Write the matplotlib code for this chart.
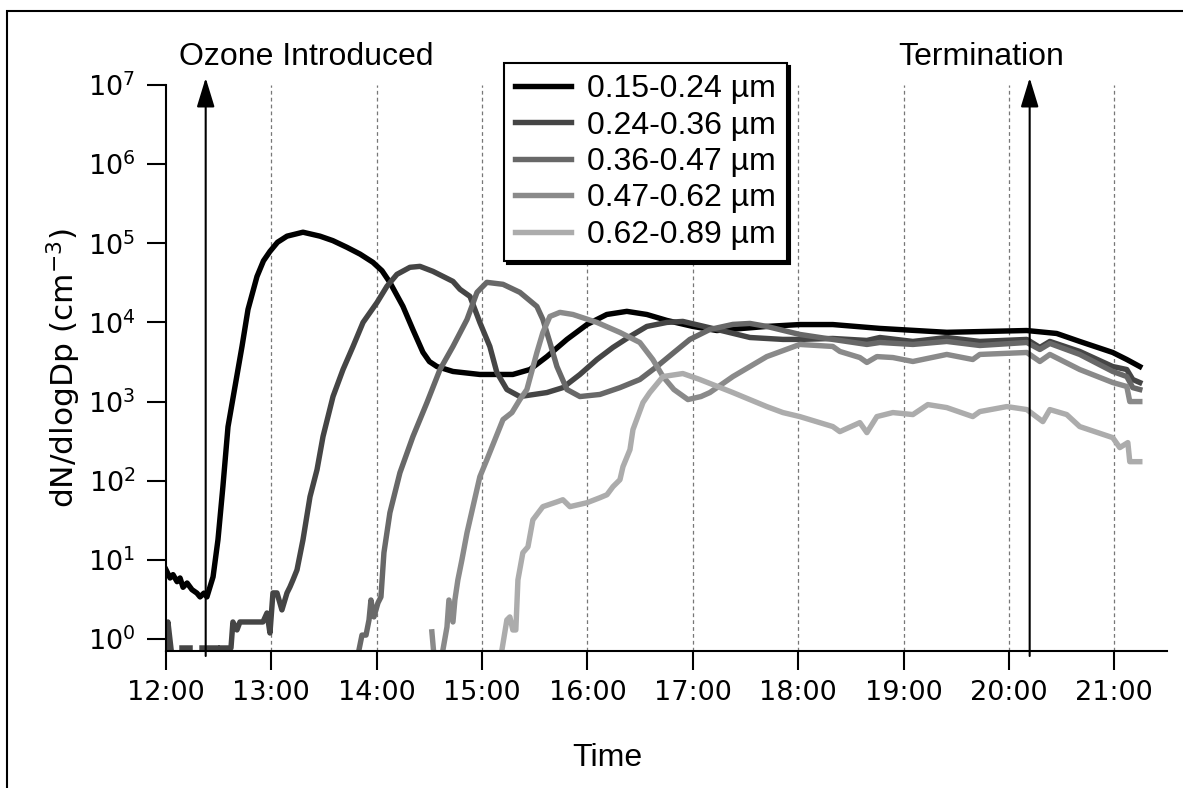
import numpy as np
import pandas as pd
import matplotlib
matplotlib.use("Agg")
import matplotlib.pyplot as plt
import matplotlib.dates as mdates
from matplotlib.ticker import NullLocator
from matplotlib.patches import Rectangle

plt.rcParams['font.family'] = 'DejaVu Sans'

nan = np.nan

# minutes after 12:00, dN/dlogDp (cm-3)
t1 = [0, 2.3, 4.0, 6.3, 8.0, 9.7, 12.0, 14.8, 17.6, 19.4, 21.6, 23.3, 26.8, 29.6, 32.4,
      35.3, 39.3, 43.3, 46.7, 51.8, 55.5, 59.2, 63.5, 68.9, 78.0, 87.7, 95.0, 103.0, 110.5,
      117.8, 123.0, 127.5, 131.5, 134.9, 140.6, 146.3, 150.0, 154.3, 163.4, 178.7, 197.5,
      207.2, 216.9, 228.3, 239.7, 251.0, 262.4, 273.8, 285.2, 300.0, 313.7, 342.1, 360.9,
      379.7, 406.5, 444.6, 490.1, 507.2, 520.3, 539.1, 547.1, 554.5]
n1 = [7.5, 5.9, 6.5, 5.3, 5.9, 4.5, 5.1, 4.2, 3.8, 3.4, 3.8, 3.4, 6.1, 18, 84,
      480, 1550, 5000, 14600, 38000, 60000, 79000, 103000, 123000, 138000, 123000, 108000,
      89000, 73000, 57500, 45000, 32000, 22000, 16000, 8100, 4200, 3200, 2770, 2400, 2200,
      2200, 2540, 3700, 6100, 9400, 12600, 13800, 12600, 10600, 8900, 7900, 8900, 9400,
      9400, 8400, 7500, 7900, 7250, 5750, 4170, 3400, 2770]

t2 = [0, 1.1, 2.8, 4.5, 9.1, 13.7, 16, 20.5, 29.0, 30.5, 31.3, 37.0, 38.1, 40.4, 42.1,
      55.2, 57.5, 59.2, 60.9, 63.2, 66.0, 68.9, 70.6, 72.3, 74.6, 78.0, 82.0, 86.0, 89.4,
      95.1, 100.8, 106.5, 112.2, 120.2, 125.8, 131.5, 138.9, 144.6, 152.0, 163.4, 167.4,
      173.1, 178.7, 184.4, 188.4, 194.1, 201.5, 216.9, 226.0, 235.7, 245.4, 254.5, 264.2,
      273.8, 285.2, 294.3, 313.7, 332.5, 351.3, 360.9, 379.7, 399.1, 406.5, 425.3, 444.6,
      463.4, 490.2, 497.6, 503.3, 520.3, 539.1, 547.1, 550.5, 554.5]
n2 = [0.77, 1.64, 0.77, nan, 0.77, 0.77, nan, 0.77, 0.77, nan, 0.77, 0.77, 1.64, 1.30, 1.64,
      1.64, 2.13, 1.19, 3.82, 3.82, 2.33, 3.82, 4.55, 5.58, 7.47, 17.9, 62.7, 138, 361,
      1157, 2540, 4970, 10000, 17900, 28600, 40500, 49700, 51100, 44200, 33000, 26200,
      21300, 10000, 4970, 2330, 1420, 1157, 1300, 1500, 2200, 3400, 4830, 6650,
      8900, 10000, 10300, 8150, 6450, 6100, 6100, 6270, 5920, 6450, 5750, 6450,
      5750, 6100, 4830, 5750, 4300, 2770, 2540, 1900, 1740]

t3 = [109.9, 111.6, 113.9, 115.6, 116.7, 118.4, 120.7, 122.4, 124.1, 127.5, 133.2, 140.6,
      148.6, 156.0, 163.4, 171.4, 177.1, 182.7, 191.9, 201.5, 211.2, 214.6, 218.6, 222.6,
      228.3, 235.7, 247.1, 258.5, 269.8, 279.5, 289.2, 298.3, 309.7, 322.8, 332.5, 342.1,
      360.9, 379.7, 399.1, 406.5, 425.3, 444.6, 463.4, 490.2, 497.6, 503.3, 520.3, 539.1,
      547.1, 550.5, 554.5]
n3 = [0.73, 1.12, 1.12, 1.74, 3.11, 1.90, 2.86, 3.40, 12.3, 39.4, 126, 361,
      971, 2540, 4970, 10900, 24000, 32100, 30300, 24000, 15900, 10900, 5580, 2770,
      1420, 1157, 1230, 1500, 1900, 2770, 4170, 6100, 8150, 9440, 9710, 8900,
      7050, 6100, 5270, 5580, 5270, 5750, 5110, 5580, 4550, 5420, 3940, 2400,
      2070, 1500, 1420]

t4 = [151.4, 152.3, 153.0, 157.7, 160.0, 161.1, 163.4, 164.5, 166.2, 168.5, 171.4, 174.8,
      178.7, 182.7, 187.3, 191.9, 197.0, 201.5, 205.5, 211.2, 214.6, 218.6, 224.3, 231.7,
      245.4, 258.5, 269.8, 277.2, 283.0, 289.2, 297.2, 304.6, 309.7, 322.8, 342.1, 360.9,
      379.7, 383.7, 395.1, 399.1, 404.8, 413.9, 425.3, 444.6, 459.4, 463.4, 490.2, 497.6,
      503.3, 520.3, 539.1, 547.1, 548.8, 554.5]
n4 = [1.23, 0.73, nan, 0.73, 1.42, 3.11, 1.64, 3.11, 5.58, 10, 22, 47,
      112, 184, 330, 592, 726, 1060, 1420, 4170, 7470, 11900, 13400, 12600,
      10000, 7470, 5580, 3400, 2070, 1420, 1060, 1157, 1300, 2070, 3700, 5270,
      4970, 4300, 3600, 3120, 3700, 3600, 3210, 3940, 3400, 3940, 4170, 3210,
      3940, 2540, 1740, 1550, 1000, 1000]

t5 = [191.3, 194.1, 195.8, 197.5, 199.2, 200.4, 203.2, 206.1, 208.9, 214.6, 222.6, 226.0,
      230.0, 239.7, 247.1, 251.1, 254.5, 258.5, 260.2, 264.2, 265.9, 271.6, 275.5, 283.0,
      294.3, 304.0, 322.8, 342.1, 351.3, 360.9, 379.7, 383.7, 395.1, 399.1, 404.8, 413.9,
      425.3, 433.8, 444.6, 459.4, 463.4, 478.8, 490.2, 499.3, 503.3, 512.9, 520.3, 539.1,
      543.1, 547.7, 548.8, 554.5]
n5 = [0.73, 1.74, 1.90, 1.30, 1.30, 5.58, 12.3, 14.6, 32, 47, 54, 57.5,
      47, 52.7, 61, 66.5, 84, 103, 150, 247, 442, 971, 1300, 2070,
      2260, 1900, 1300, 864, 726, 646, 483, 417, 542, 405, 646, 726,
      685, 916, 839, 646, 747, 864, 792, 558, 792, 685, 483, 350,
      262, 303, 174, 174]

labels = ['0.15-0.24 µm', '0.24-0.36 µm', '0.36-0.47 µm', '0.47-0.62 µm', '0.62-0.89 µm']
colors = ['#000000', '#454545', '#686868', '#8a8a8a', '#acacac']

ozone_min = 22.6
term_min = 491.8

base = pd.Timestamp('2000-01-01 12:00')
def clock(m):
    return base + pd.to_timedelta(np.asarray(m, dtype=float), unit='min')

fig = plt.figure(figsize=(11.83, 7.88), dpi=100)
ax = fig.add_axes([166/1183, 1-651/788, 1001/1183, 566/788])

# hourly dashed grid
for h in range(13, 22):
    ax.axvline(base + pd.Timedelta(hours=h-12), color='#777777', lw=0.9,
               ls=(0, (3, 2.5)), zorder=0)

series = [(t1, n1), (t2, n2), (t3, n3), (t4, n4), (t5, n5)]
for (t, n), lab, c in zip(series, labels, colors):
    ax.plot(clock(t), n, color=c, lw=3.9, label=lab, solid_joinstyle='round')

ax.set_yscale('log')
ax.set_ylim(0.705, 1e7)
ax.set_xlim(base, base + pd.Timedelta(minutes=570))
ax.set_yticks([10.0**k for k in range(8)])
ax.yaxis.set_minor_locator(NullLocator())
ax.xaxis.set_major_locator(mdates.HourLocator(byhour=range(12, 22)))
ax.xaxis.set_major_formatter(mdates.DateFormatter('%H:%M'))

for s in ['top', 'right']:
    ax.spines[s].set_visible(False)
for s in ['left', 'bottom']:
    ax.spines[s].set_linewidth(1.5)
ax.tick_params(axis='both', which='major', direction='out', length=14, width=1.5,
               labelsize=19.5)
ax.tick_params(axis='x', pad=7)
ax.tick_params(axis='y', pad=8)

ax.set_ylabel('dN/dlogDp (cm$^{-3}$)', fontsize=22.5)
ax.yaxis.set_label_coords(-0.083, 0.5)
ax.set_xlabel('Time', fontsize=23, family='Liberation Sans', va='center')
ax.xaxis.set_label_coords((607-166)/1001, -(758-651)/566)

# event arrows
for m in [ozone_min, term_min]:
    x = base + pd.Timedelta(minutes=m)
    ax.annotate('', xy=(x, 10**7.09), xytext=(x, 10**-0.215),
                xycoords='data', textcoords='data', annotation_clip=False,
                arrowprops=dict(arrowstyle='-|>,head_length=1.8,head_width=0.55',
                                mutation_scale=10, lw=1.5, color='black',
                                shrinkA=0, shrinkB=0))

fig.text(306/1183, 1-57/788, 'Ozone Introduced', fontsize=23, family='Liberation Sans',
         ha='center', va='center')
fig.text(981/1183, 1-57/788, 'Termination', fontsize=23, family='Liberation Sans',
         ha='center', va='center')

leg = ax.legend(loc='upper left', bbox_to_anchor=(504/1183, 1-63/788),
                bbox_transform=fig.transFigure, borderaxespad=0,
                prop={'family': 'Liberation Sans', 'size': 23},
                frameon=True, fancybox=False, shadow={'color': 'black', 'alpha': 1},
                handlelength=1.75, handletextpad=0.5, labelspacing=0.2,
                borderpad=0.35)
leg.get_frame().set_edgecolor('black')
leg.get_frame().set_linewidth(1.5)
leg.get_frame().set_alpha(1)

# outer frame
fig.add_artist(Rectangle((7/1183, -0.2), 1.5, 1.2 - 11/788, transform=fig.transFigure,
                         fill=False, lw=1.5, ec='black'))

fig.savefig('out.png', dpi=100)
